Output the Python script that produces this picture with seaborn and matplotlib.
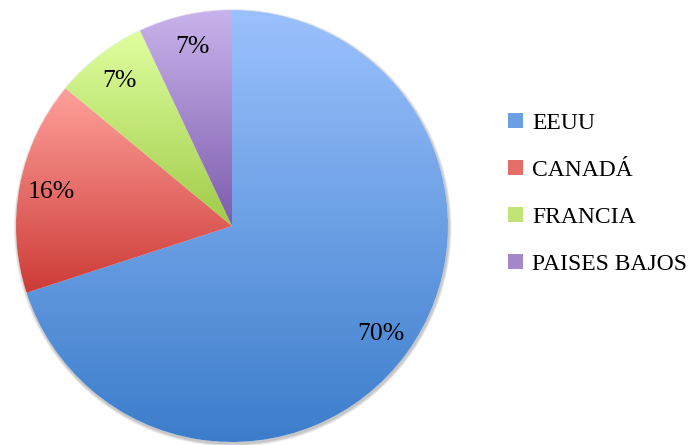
import numpy as np
import matplotlib
matplotlib.use("Agg")
import matplotlib.pyplot as plt
import seaborn as sns
from matplotlib.patches import Patch, Circle
from matplotlib.colors import LinearSegmentedColormap, to_rgb

# Export share by destination country (%)
countries = ["EEUU", "CANADÁ", "FRANCIA", "PAISES BAJOS"]
shares = [70, 16, 7, 7]

# Vertical gradient for each slice: light at the top, dark at the bottom
top_colors = ["#9bc1fd", "#ffa09c", "#e0ffa0", "#c9b3eb"]
bottom_colors = ["#3c7dcb", "#cd3b36", "#a0cb48", "#7d5cad"]

sns.set_theme(style="white")
plt.rcParams["font.family"] = ["Liberation Serif", "DejaVu Serif"]

fig = plt.figure(figsize=(6.91, 4.45), dpi=100)
ax = fig.add_axes([16 / 691, 3 / 445, 432 / 691, 432 / 445])

# soft drop shadow under the pie, offset towards the lower right
px = 1 / 216
for k in range(1, 5):
    ax.add_patch(Circle((0.8 * px, -1.8 * px), 1 + k * 0.7 * px,
                        facecolor="black", edgecolor="none",
                        alpha=0.06, zorder=0, clip_on=False))

wedges, texts, autotexts = ax.pie(
    shares,
    startangle=90,
    counterclock=False,
    autopct=lambda p: f"{p:.0f}%",
    pctdistance=0.85,
    textprops=dict(fontsize=18.5, color="black"),
    wedgeprops=dict(linewidth=0),
)

grad = np.linspace(0, 1, 256).reshape(-1, 1)
for w, c_top, c_bot in zip(wedges, top_colors, bottom_colors):
    path = w.get_path().transformed(w.get_patch_transform())
    bb = path.get_extents()
    cmap = LinearSegmentedColormap.from_list("slice", [c_bot, c_top])
    ax.imshow(grad, extent=(bb.x0, bb.x1, bb.y0, bb.y1), origin="lower",
              cmap=cmap, aspect="auto", clip_path=w, zorder=2,
              interpolation="bilinear")
    w.set_facecolor("white")
    w.set_zorder(1)

for t in autotexts:
    t.set_zorder(5)

ax.set_xlim(-1, 1)
ax.set_ylim(-1, 1)
ax.set_aspect("equal")
ax.axis("off")

mid_colors = [tuple((np.array(to_rgb(a)) + np.array(to_rgb(b))) / 2)
              for a, b in zip(top_colors, bottom_colors)]
handles = [Patch(facecolor=c, edgecolor="none") for c in mid_colors]
fig.legend(handles, countries, loc="center left",
           bbox_to_anchor=(508 / 691, 1 - 194 / 445),
           frameon=False, fontsize=17, handlelength=0.62, handleheight=0.62,
           handletextpad=0.4, labelspacing=1.1, borderpad=0, borderaxespad=0,
           labelcolor="black")

fig.savefig("out.png", dpi=100)
